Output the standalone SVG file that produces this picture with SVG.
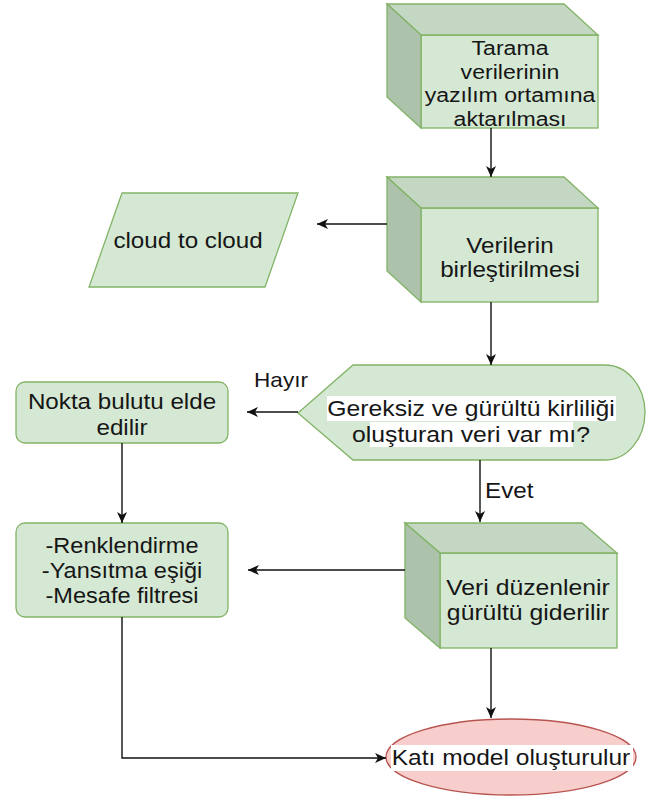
<svg xmlns="http://www.w3.org/2000/svg" width="657" height="796" viewBox="0 0 657 796">
<style>
.g{fill:#d5e8d4;stroke:#82b366;stroke-width:1.3}
.gt{fill:#c3d7c2;stroke:#82b366;stroke-width:1.3}
.gl{fill:#adc2ab;stroke:#82b366;stroke-width:1.3}
.r{fill:#f8cecc;stroke:#b85450;stroke-width:1.3}
.e{fill:none;stroke:#111;stroke-width:1.4}
text{font-family:"Liberation Sans",Arial,sans-serif;fill:#161616;text-anchor:middle}
.lbl{text-anchor:start}
</style>
<defs>
<marker id="a" markerUnits="userSpaceOnUse" markerWidth="12" markerHeight="10" refX="11" refY="5" orient="auto">
<path d="M0,0 L11,5 L0,10 L3,5 Z" fill="#111"/>
</marker>
</defs>
<rect width="657" height="796" fill="#fff"/>
<g id="n1">
<rect class="g" x="421" y="35" width="177" height="93"/>
<polygon class="gt" points="387,4 564,4 598,35 421,35"/>
<polygon class="gl" points="387,4 421,35 421,128 387,97"/>
<g transform="translate(510,0) scale(1.1,1)" font-size="21">
<text x="0" y="55">Tarama</text>
<text x="0" y="79">verilerinin</text>
<text x="0" y="102">yazılım ortamına</text>
<text x="0" y="126">aktarılması</text>
</g>
</g>
<g id="n2">
<rect class="g" x="421" y="208" width="177" height="94"/>
<polygon class="gt" points="387,177 564,177 598,208 421,208"/>
<polygon class="gl" points="387,177 421,208 421,302 387,271"/>
<g transform="translate(510,0) scale(1.1,1)" font-size="22">
<text x="0" y="253">Verilerin</text>
<text x="0" y="277">birleştirilmesi</text>
</g>
</g>
<g id="n3">
<polygon class="g" points="122,193 298,193 265,287 89,287"/>
<g transform="translate(188,0) scale(1.1,1)" font-size="22">
<text x="0" y="248">cloud to cloud</text>
</g>
</g>
<g id="n4">
<path class="g" d="M298,413 L353,365 L605,365 A40,47.5 0 0 1 605,460 L353,460 Z"/>
<rect x="327" y="396" width="289" height="25" fill="#fff"/>
<rect x="370" y="422" width="203" height="25" fill="#fff"/>
<g transform="translate(471,0) scale(1.1,1)" font-size="22.5">
<text x="0" y="416">Gereksiz ve gürültü kirliliği</text>
<text x="0" y="442">oluşturan veri var mı?</text>
</g>
</g>
<g id="n5">
<rect class="g" x="16" y="382" width="212" height="61" rx="9"/>
<g transform="translate(122,0) scale(1.1,1)" font-size="22">
<text x="0" y="409">Nokta bulutu elde</text>
<text x="0" y="435">edilir</text>
</g>
</g>
<g id="n6">
<rect class="g" x="16" y="523" width="212" height="94" rx="9"/>
<g transform="translate(122,0) scale(1.1,1)" font-size="21.4">
<text x="0" y="553">-Renklendirme</text>
<text x="0" y="578">-Yansıtma eşiği</text>
<text x="0" y="603">-Mesafe filtresi</text>
</g>
</g>
<g id="n7">
<rect class="g" x="440" y="553" width="177" height="95"/>
<polygon class="gt" points="405,523 582,523 617,553 440,553"/>
<polygon class="gl" points="405,523 440,553 440,648 405,618"/>
<g transform="translate(528,0) scale(1.1,1)" font-size="22.5">
<text x="0" y="595">Veri düzenlenir</text>
<text x="0" y="620">gürültü giderilir</text>
</g>
</g>
<g id="n8">
<ellipse class="r" cx="511" cy="757" rx="125" ry="38"/>
<rect x="391" y="745" width="242" height="26" fill="#fff"/>
<g transform="translate(511,0) scale(1.1,1)" font-size="22.3">
<text x="0" y="765">Katı model oluşturulur</text>
</g>
</g>
<g id="edges">
<path class="e" d="M491,128 V177" marker-end="url(#a)"/>
<path class="e" d="M387,224 H317" marker-end="url(#a)"/>
<path class="e" d="M491,302 V365" marker-end="url(#a)"/>
<path class="e" d="M298,412 H247" marker-end="url(#a)"/>
<path class="e" d="M122,443 V523" marker-end="url(#a)"/>
<path class="e" d="M480,460 V522" marker-end="url(#a)"/>
<path class="e" d="M405,570 H248" marker-end="url(#a)"/>
<path class="e" d="M491,648 V718" marker-end="url(#a)"/>
<path class="e" d="M122,617 V758 H386" marker-end="url(#a)"/>
<g transform="translate(281,0) scale(1.1,1)" font-size="20.5"><text x="0" y="387">Hayır</text></g>
<g transform="translate(485,0) scale(1.1,1)" font-size="22"><text class="lbl" x="0" y="498">Evet</text></g>
</g>
</svg>
